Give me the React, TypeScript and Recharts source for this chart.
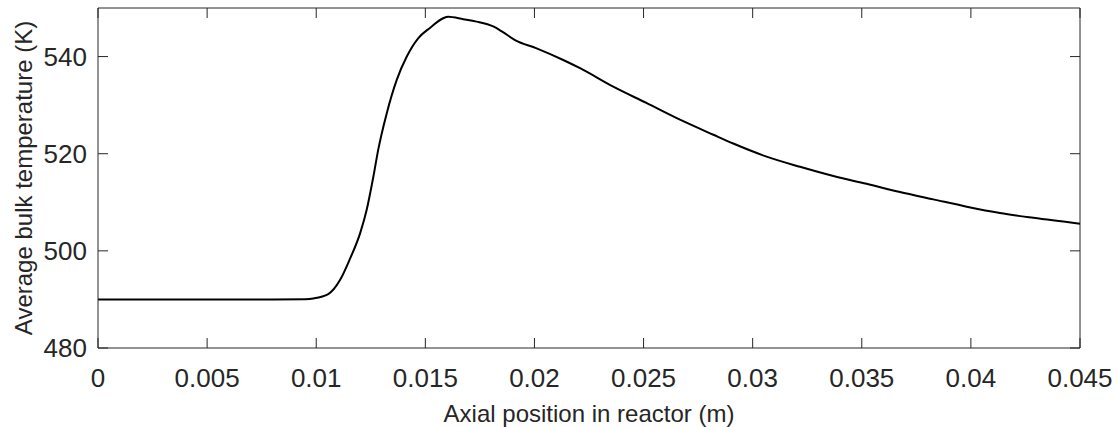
import { LineChart, Line, XAxis, YAxis, Label, ReferenceLine } from "recharts";

const positions = [
  0, 0.002, 0.004, 0.006, 0.008, 0.0095, 0.00987, 0.01055, 0.01109, 0.01155,
  0.01201, 0.01231, 0.01262, 0.01284, 0.01323, 0.01369, 0.01415, 0.01468,
  0.01521, 0.01582, 0.01605, 0.01674, 0.01735, 0.01811, 0.0185, 0.01911,
  0.0201, 0.02132, 0.02209, 0.02361, 0.02515, 0.02667, 0.0282, 0.02911,
  0.03064, 0.03217, 0.0337, 0.03522, 0.03675, 0.03828, 0.03981, 0.04133,
  0.04286, 0.045,
];

const temperatures = [
  490, 490, 490, 490, 490, 490.05, 490.2, 491.1, 494.0, 498.4,
  503.6, 508.4, 515.3, 520.8, 528.3, 535.2, 540.0, 543.8,
  545.9, 547.9, 548.2, 547.7, 547.2, 546.2, 545.2, 543.4,
  541.7, 539.3, 537.6, 533.8, 530.4, 527.0, 523.9, 522.1,
  519.4, 517.3, 515.4, 513.8, 512.1, 510.6, 509.1, 507.8,
  506.8, 505.6,
];

const xTicks = [0, 0.005, 0.01, 0.015, 0.02, 0.025, 0.03, 0.035, 0.04, 0.045];
const yTicks = [480, 500, 520, 540];

const data = positions.map((x, i) => ({ x, y: temperatures[i] }));

const AXIS = "#262626";
const FONT = "'Liberation Sans', Arial, sans-serif";

// chart frame
const W = 1118;
const H = 427;
const TOP = 8;
const RIGHT = 38;
const X_AXIS_H = 79;
const Y_AXIS_W = 98;
const PLOT_TOP = TOP;
const PLOT_RIGHT = W - RIGHT;

// inward ticks on all four sides, like a boxed plot
const BottomTick = (props: any) => {
  const { x, y, payload } = props;
  return (
    <g>
      <line x1={x} y1={y} x2={x} y2={y - 10} stroke={AXIS} strokeWidth={1} />
      <line x1={x} y1={PLOT_TOP} x2={x} y2={PLOT_TOP + 10} stroke={AXIS} strokeWidth={1} />
      <text x={x} y={y + 39} textAnchor="middle" fill={AXIS} fontSize={26} fontFamily={FONT}>
        {String(payload.value)}
      </text>
    </g>
  );
};

const LeftTick = (props: any) => {
  const { x, y, payload } = props;
  return (
    <g>
      <line x1={x} y1={y} x2={x + 10} y2={y} stroke={AXIS} strokeWidth={1} />
      <line x1={PLOT_RIGHT} y1={y} x2={PLOT_RIGHT - 10} y2={y} stroke={AXIS} strokeWidth={1} />
      <text x={x - 11} y={y} dy="0.36em" textAnchor="end" fill={AXIS} fontSize={26} fontFamily={FONT}>
        {payload.value}
      </text>
    </g>
  );
};

export default function App() {
  return (
    <div style={{ position: "absolute", left: 0, top: 0 }}>
      <LineChart width={W} height={H} data={data} margin={{ top: TOP, right: RIGHT, bottom: 0, left: 0 }}>
        <XAxis
          dataKey="x"
          type="number"
          domain={[0, 0.045]}
          ticks={xTicks}
          interval={0}
          height={X_AXIS_H}
          tickSize={0}
          tickMargin={0}
          tick={<BottomTick />}
          axisLine={{ stroke: AXIS, strokeWidth: 1 }}
        >
          <Label
            content={({ viewBox }: any) => (
              <text
                x={viewBox.x + viewBox.width / 2}
                y={viewBox.y + 74}
                textAnchor="middle"
                fill={AXIS}
                fontSize={24}
                fontFamily={FONT}
              >
                Axial position in reactor (m)
              </text>
            )}
          />
        </XAxis>
        <YAxis
          type="number"
          domain={[480, 550]}
          ticks={yTicks}
          interval={0}
          width={Y_AXIS_W}
          tickSize={0}
          tickMargin={0}
          tick={<LeftTick />}
          stroke={AXIS}
        >
          <Label
            content={({ viewBox }: any) => {
              const cx = viewBox.x + 23;
              const cy = viewBox.y + viewBox.height / 2;
              return (
                <text
                  x={cx}
                  y={cy}
                  transform={`rotate(-90, ${cx}, ${cy})`}
                  textAnchor="middle"
                  dominantBaseline="central"
                  fill={AXIS}
                  fontSize={24}
                  fontFamily={FONT}
                >
                  Average bulk temperature (K)
                </text>
              );
            }}
          />
        </YAxis>
        <ReferenceLine y={550} stroke={AXIS} strokeWidth={1} />
        <ReferenceLine x={0.045} stroke={AXIS} strokeWidth={1} />
        <Line
          type="monotone"
          dataKey="y"
          stroke="#000"
          strokeWidth={2}
          dot={false}
          isAnimationActive={false}
        />
      </LineChart>
    </div>
  );
}
